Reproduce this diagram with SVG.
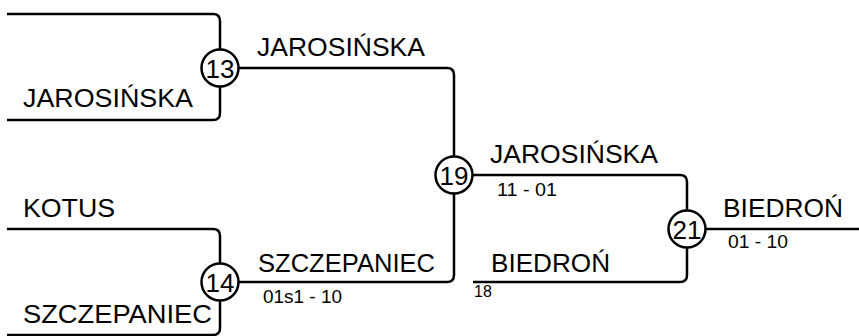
<svg xmlns="http://www.w3.org/2000/svg" width="859" height="336" viewBox="0 0 859 336">
<style>
.ln{fill:none;stroke:#000;stroke-width:2.5;stroke-linejoin:round}
.nd{fill:#fff;stroke:#000;stroke-width:2.5}
.big{font-family:"Liberation Sans",Arial,sans-serif;font-size:26px;fill:#000}
.num{font-family:"Liberation Sans",Arial,sans-serif;font-size:26px;fill:#000;text-anchor:middle}
.sm{font-family:"Liberation Sans",Arial,sans-serif;font-size:19px;fill:#000}
.xs{font-family:"Liberation Sans",Arial,sans-serif;font-size:16px;fill:#000}
</style>
<rect width="859" height="336" fill="#fff"/>
<g id="connectors">
<path class="ln" d="M7,14 H213 Q220,14 220,21 V113 Q220,120 213,120 H7"/>
<path class="ln" d="M7,229 H213 Q220,229 220,236 V328 Q220,335 213,335 H7"/>
<path class="ln" d="M220,68 H447 Q454,68 454,75 V275 Q454,282 447,282 H220"/>
<path class="ln" d="M454,175 H680 Q687,175 687,182 V275 Q687,282 680,282 H473"/>
<path class="ln" d="M687,229 H859"/>
</g>
<g id="labels">
<text class="big" x="23" y="107" textLength="170" lengthAdjust="spacingAndGlyphs">JAROSIŃSKA</text>
<text class="big" x="257" y="56" textLength="168" lengthAdjust="spacingAndGlyphs">JAROSIŃSKA</text>
<text class="big" x="23" y="217" textLength="92" lengthAdjust="spacingAndGlyphs">KOTUS</text>
<text class="big" x="23" y="323" textLength="189" lengthAdjust="spacingAndGlyphs">SZCZEPANIEC</text>
<text class="big" x="258" y="272" textLength="177" lengthAdjust="spacingAndGlyphs">SZCZEPANIEC</text>
<text class="sm" x="263" y="303" textLength="79" lengthAdjust="spacingAndGlyphs">01s1 - 10</text>
<text class="big" x="490" y="163" textLength="168" lengthAdjust="spacingAndGlyphs">JAROSIŃSKA</text>
<text class="sm" x="497" y="196" textLength="60" lengthAdjust="spacingAndGlyphs">11 - 01</text>
<text class="big" x="491" y="272" textLength="119" lengthAdjust="spacingAndGlyphs">BIEDROŃ</text>
<text class="xs" x="474" y="297">18</text>
<text class="big" x="723" y="217" textLength="120" lengthAdjust="spacingAndGlyphs">BIEDROŃ</text>
<text class="sm" x="728" y="248" textLength="60" lengthAdjust="spacingAndGlyphs">01 - 10</text>
</g>
<g id="n13"><circle class="nd" cx="220" cy="68" r="18.5"/><text class="num" x="220" y="77.5">13</text></g>
<g id="n14"><circle class="nd" cx="220" cy="282" r="18.5"/><text class="num" x="220" y="291.5">14</text></g>
<g id="n19"><circle class="nd" cx="454" cy="175" r="18.5"/><text class="num" x="454" y="184.5">19</text></g>
<g id="n21"><circle class="nd" cx="687" cy="229" r="18.5"/><text class="num" x="687" y="238.5">21</text></g>
</svg>
